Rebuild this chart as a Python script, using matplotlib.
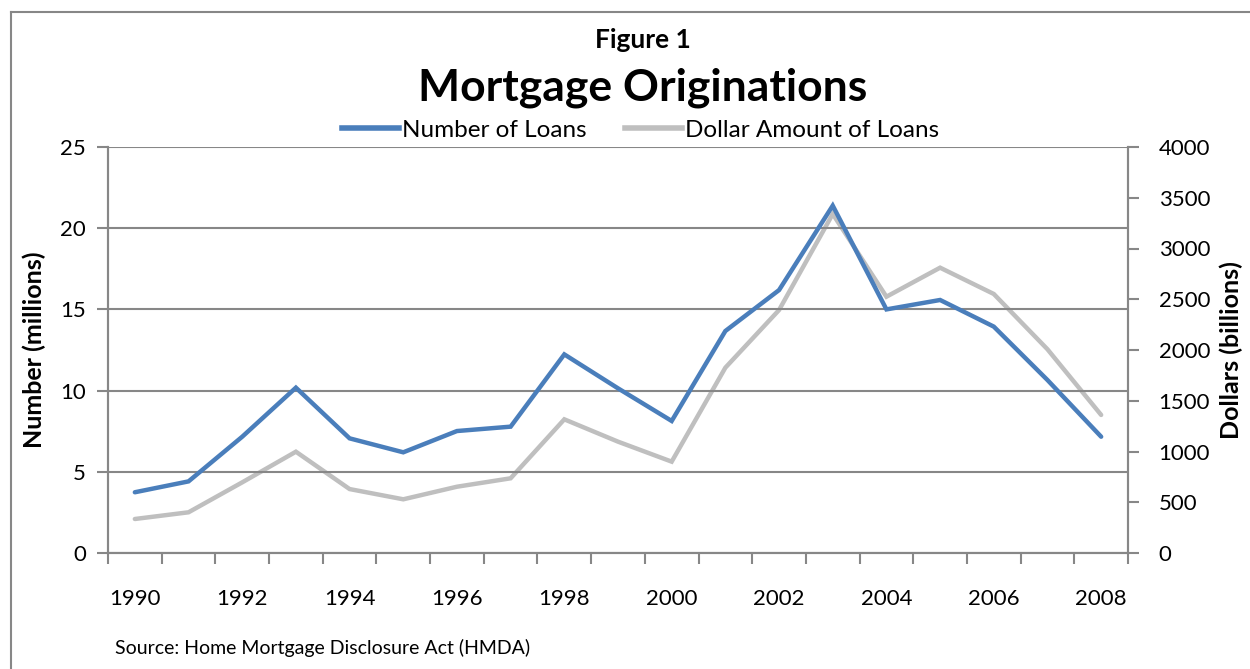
import matplotlib
matplotlib.use("Agg")
import matplotlib.pyplot as plt
from matplotlib.lines import Line2D
import numpy as np

plt.rcParams['font.family'] = ['Lato', 'DejaVu Sans']

years = list(range(1990, 2009))
num_loans = [3.74, 4.41, 7.16, 10.18, 7.06, 6.2, 7.51, 7.78, 12.23, 10.14,
             8.13, 13.67, 16.19, 21.39, 15.0, 15.58, 13.94, 10.65, 7.16]
dollar_amount = [335, 401, 696, 998, 630, 529, 653, 736, 1317, 1097,
                 900, 1826, 2394, 3340, 2525, 2811, 2552, 2007, 1360]
left_ticks = [0, 5, 10, 15, 20, 25]
right_ticks = list(range(0, 4001, 500))

W, H = 1250, 669
fig = plt.figure(figsize=(W / 100, H / 100), dpi=100)

# outer border (left and top)
fig.add_artist(Line2D([11 / W, 11 / W], [0, 1 - 12 / H], color='#878787', lw=1.5))
fig.add_artist(Line2D([11 / W, 1], [1 - 12 / H, 1 - 12 / H], color='#878787', lw=1.5))

L, R, T, B = 108, 1128, 147, 553
ax = fig.add_axes([L / W, 1 - B / H, (R - L) / W, (B - T) / H])
ax2 = ax.twinx()

gray = '#878787'
x = np.arange(len(years))

ax2.plot(x, dollar_amount, color='#BFBFBF', lw=3.2, solid_capstyle='round', solid_joinstyle='miter', zorder=2)
ax.plot(x, num_loans, color='#4A7EBB', lw=3.2, solid_capstyle='round', solid_joinstyle='miter', zorder=3)
ax.set_zorder(ax2.get_zorder() + 1)
ax.patch.set_visible(False)

ax.set_xlim(-0.5, len(years) - 0.5)
ax.set_ylim(0, 25)
ax2.set_ylim(0, 4000)
ax.set_yticks(left_ticks)
ax2.set_yticks(right_ticks)
ax.set_xticks(x[::2])
ax.set_xticklabels([str(y) for y in years[::2]])
ax.set_xticks(np.arange(-0.5, len(years)), minor=True)
ax.tick_params(axis='x', which='major', length=0, pad=26, labelsize=16)
ax.tick_params(axis='x', which='minor', length=8, width=1.5, color=gray, direction='out')
ax.tick_params(axis='y', length=8, width=1.5, color=gray, labelsize=16, pad=8)
ax2.tick_params(axis='y', length=8, width=1.5, color=gray, labelsize=16, pad=14)

ax.yaxis.grid(True, color=gray, lw=1.5)
ax.set_axisbelow(True)
for a in (ax, ax2):
    a.spines['top'].set_visible(False)
    for s in ('left', 'right', 'bottom'):
        a.spines[s].set_color(gray)
        a.spines[s].set_linewidth(1.5)

ax.set_ylabel('Number (millions)', fontsize=18, fontweight='bold', labelpad=10)
ax2.set_ylabel('Dollars (billions)', fontsize=18, fontweight='bold', labelpad=7)

fig.text(0.514, 1 - 40 / H, 'Figure 1', ha='center', va='center', fontsize=19, fontweight='bold')
fig.text(0.514, 1 - 88 / H, 'Mortgage Originations', ha='center', va='center', fontsize=32, fontweight='bold')

handles = [Line2D([], [], color='#4A7EBB', lw=4), Line2D([], [], color='#BFBFBF', lw=4)]
fig.legend(handles, ['Number of Loans', 'Dollar Amount of Loans'], loc='center',
           bbox_to_anchor=(640.5 / W, 1 - 130 / H), ncol=2, frameon=False, fontsize=17.5,
           handlelength=2.35, handletextpad=0.1, columnspacing=1.6)

fig.text(115 / W, 1 - 648 / H, 'Source: Home Mortgage Disclosure Act (HMDA)', ha='left', va='center', fontsize=14)

fig.savefig('out.png', dpi=100)
